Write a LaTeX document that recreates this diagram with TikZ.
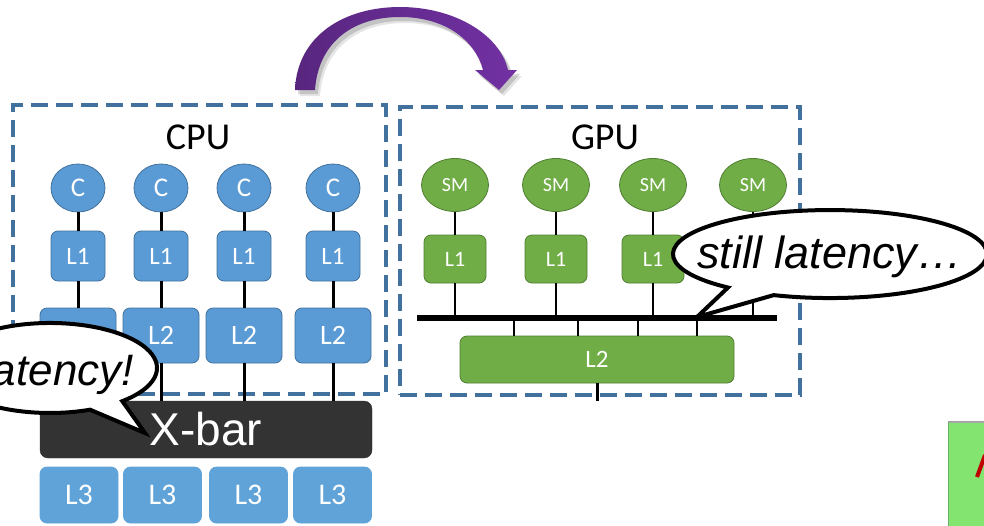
\documentclass[tikz,border=0pt]{standalone}
\usepackage{fontspec}
\setmainfont{Carlito}
\newfontfamily\arialfont{Liberation Sans}
\usetikzlibrary{shapes.geometric}

\definecolor{cpublue}{HTML}{5B9BD5}
\definecolor{cpuedge}{HTML}{41719C}
\definecolor{lthree}{HTML}{5FA3D9}
\definecolor{gpugreen}{HTML}{70AD47}
\definecolor{gpuedge}{HTML}{507E32}
\definecolor{dashblue}{HTML}{41719C}
\definecolor{xbargray}{HTML}{333333}
\definecolor{purpdark}{HTML}{58267F}
\definecolor{purplight}{HTML}{7231A3}
\definecolor{lightgreen}{HTML}{84E470}
\definecolor{markred}{HTML}{C00000}

\newcommand{\fsz}[1]{\fontsize{#1}{#1}\selectfont}

\begin{document}
\begin{tikzpicture}[x=1pt,y=-1pt,
  unitbox/.style={draw=cpuedge, line width=0.8pt, fill=cpublue, rounded corners=7pt,
    text=white, inner sep=0pt},
  core/.style={ellipse, draw=cpuedge, line width=0.8pt, fill=cpublue, text=white,
    inner sep=0pt, minimum width=54pt, minimum height=48pt, font=\fsz{27}},
  cl1/.style={unitbox, minimum width=54pt, minimum height=50pt, font=\fsz{25}},
  cl2/.style={unitbox, minimum width=76pt, minimum height=55pt, font=\fsz{28}},
  cl3/.style={unitbox, fill=lthree, draw=lthree, minimum width=78pt, minimum height=56pt, font=\fsz{30}},
  sm/.style={ellipse, draw=gpuedge, line width=0.8pt, fill=gpugreen, text=white,
    inner sep=0pt, minimum width=67pt, minimum height=53pt, font=\fsz{20}},
  gbox/.style={draw=gpuedge, line width=0.8pt, fill=gpugreen, rounded corners=7pt,
    text=white, inner sep=0pt},
  gl1/.style={gbox, minimum width=62pt, minimum height=48pt, font=\fsz{22}},
  chip/.style={draw=dashblue, line width=4pt, dash pattern=on 17pt off 8pt,
    inner sep=0pt, outer sep=0pt},
  chiptitle/.style={font=\fsz{38}, text=black},
  wire/.style={line width=3pt, black},
  thinwire/.style={line width=2pt, black},
  bubble/.style={draw=black, line width=4pt, fill=white, line join=miter},
  bubbletext/.style={font=\arialfont\itshape\fsz{45}, text=black, inner sep=0pt},
  swoosh/.style={insert path={(295,90) .. controls (297,35) and (345,7) .. (400,7)
    .. controls (455,7) and (500,35) .. (508,70) -- (517,70) -- (499,90) -- (475,70)
    -- (483,70) .. controls (475,40) and (445,17) .. (400,17)
    .. controls (350,17) and (318,45) .. (315,90) -- cycle}}
]
\useasboundingbox (0,0) rectangle (984,525);
\clip (0,0) rectangle (984,525);

% curved purple arrow from the CPU side to the GPU side, with a soft shadow
\fill[black, opacity=0.10, shift={(5,6)}, swoosh];
\fill[black, opacity=0.15, shift={(3,4)}, swoosh];
\shade[left color=purpdark, right color=purplight, swoosh];

% dashed chip outlines and titles
\node[chip, minimum width=373pt, minimum height=289pt] (cpu) at (199.5,249.5) {};
\node[chip, minimum width=400pt, minimum height=288pt] (gpu) at (600,251) {};
\node[chiptitle] (cputitle) at (198,137) {CPU};
\node[chiptitle] (gputitle) at (605,137) {GPU};

% CPU cores with private L1 and L2
\node[draw=xbargray, fill=xbargray, rounded corners=8pt, minimum width=332pt,
  minimum height=57pt, inner sep=0pt, text=white, font=\arialfont\fsz{46}]
  (xbar) at (206,429.5) {X-bar};
\foreach \i/\x in {1/78,2/161,3/244,4/333} {
  \node[core] (c\i) at (\x,188) {C};
  \node[cl1] (cla\i) at (\x,256) {L1};
  \node[cl2] (clb\i) at (\x,335.5) {L2};
  \draw[wire] (c\i) -- (cla\i);
  \draw[wire] (cla\i) -- (clb\i);
  \draw[wire] (clb\i.south) -- (clb\i.south |- xbar.north);
}

% shared L3 slices
\foreach \i/\x in {1/79,2/162.5,3/248.5,4/332.5}
  \node[cl3] (lc\i) at (\x,495) {L3};

% GPU: SMs with L1, shared bus and L2 (the last L1 sits under the bubble)
\coordinate (busl) at (417,318);
\coordinate (busr) at (777,318);
\node[gbox, minimum width=274pt, minimum height=47pt, font=\fsz{25}] (gl2) at (597,359.5) {L2};
\foreach \i/\x/\t in {1/455/L1,2/556/L1,3/653/L1,4/753/{}} {
  \node[sm] (sm\i) at (\x,185) {SM};
  \node[gl1] (gla\i) at (\x,259) {\t};
  \draw[thinwire] (sm\i) -- (gla\i);
  \draw[thinwire] (gla\i) -- (gla\i |- busl);
}
\foreach \x in {514,578,638,697} {
  \coordinate (drop\x) at (\x,318);
  \draw[thinwire] (drop\x) -- (drop\x |- gl2.north);
}
\draw[line width=6pt] (busl) -- (busr);
\coordinate (gout) at (597,401);
\draw[line width=3pt] (gl2.south) -- (gout);

% speech bubbles
\draw[bubble] (90.1,409.7) arc[start angle=68, end angle=407.5, x radius=107, y radius=45]
  -- (145,433) -- cycle;
\node[bubbletext, font=\arialfont\itshape\fsz{44}, anchor=base east] (lat) at (134,385) {latency!};

\draw[bubble] (728,287.5) arc[start angle=130.5, end angle=471, x radius=157, y radius=44]
  -- (697,317) -- cycle;
\node[bubbletext, anchor=base] (still) at (830,268) {still latency…};

% corner of the next panel
\node[fill=lightgreen, minimum width=50pt, minimum height=110pt, inner sep=0pt,
  anchor=north west] (nextpanel) at (948,422) {};
\draw[line width=1.5pt, black!35] (nextpanel.north west) -- (nextpanel.north east);
\draw[line width=1pt, green!50!black!60] (nextpanel.north west) -- (nextpanel.south west);
\draw[line width=4pt, markred] (977,477) -- (985,455);
\end{tikzpicture}
\end{document}
